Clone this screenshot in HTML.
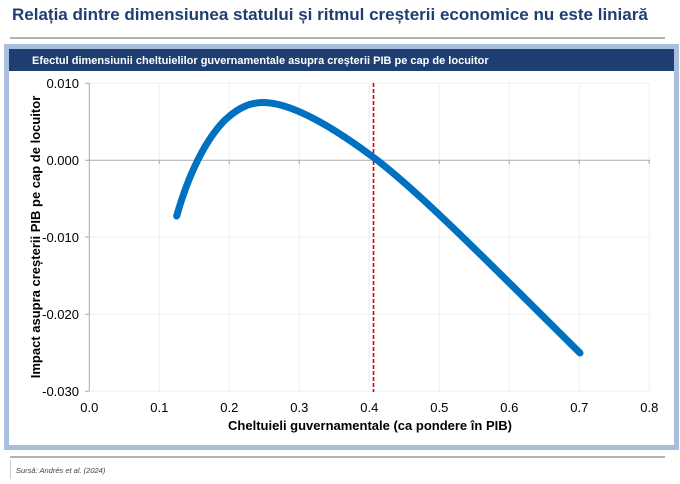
<!DOCTYPE html>
<html><head><meta charset="utf-8"><style>
body{margin:0;width:680px;height:479px;background:#fff;overflow:hidden;font-family:"Liberation Sans",sans-serif;}
</style></head><body>
<svg width="680" height="479" xmlns="http://www.w3.org/2000/svg" font-family="Liberation Sans, sans-serif">
<text x="12" y="20" font-size="17" font-weight="bold" fill="#1f3f73">Relația dintre dimensiunea statului și ritmul creșterii economice nu este liniară</text>
<line x1="10" y1="38" x2="665" y2="38" stroke="#999" stroke-width="1.5"/>
<rect x="6.5" y="46.5" width="670" height="401" fill="#fff" stroke="#a7bfdd" stroke-width="5"/>
<rect x="9" y="49" width="665" height="22" fill="#1f3f73"/>
<text x="32" y="64" font-size="11" font-weight="bold" fill="#fff">Efectul dimensiunii cheltuielilor guvernamentale asupra creșterii PIB pe cap de locuitor</text>
<g stroke="#efefef" stroke-width="1">
<line x1="159.3" y1="83" x2="159.3" y2="391"/><line x1="229.3" y1="83" x2="229.3" y2="391"/><line x1="299.3" y1="83" x2="299.3" y2="391"/><line x1="369.3" y1="83" x2="369.3" y2="391"/><line x1="439.3" y1="83" x2="439.3" y2="391"/><line x1="509.3" y1="83" x2="509.3" y2="391"/><line x1="579.3" y1="83" x2="579.3" y2="391"/><line x1="649.3" y1="83" x2="649.3" y2="391"/>
<line x1="89" y1="83.3" x2="650" y2="83.3"/><line x1="89" y1="237" x2="650" y2="237"/><line x1="89" y1="314.3" x2="650" y2="314.3"/><line x1="89" y1="391.3" x2="650" y2="391.3"/>
</g>
<g stroke="#aaa" stroke-width="1">
<line x1="89.3" y1="83" x2="89.3" y2="391.3"/>
<line x1="89" y1="160.3" x2="650" y2="160.3"/>
<line x1="85" y1="83.3" x2="89" y2="83.3"/><line x1="85" y1="160.3" x2="89" y2="160.3"/><line x1="85" y1="237" x2="89" y2="237"/><line x1="85" y1="314.3" x2="89" y2="314.3"/><line x1="85" y1="391.3" x2="89" y2="391.3"/>
<line x1="159.3" y1="160" x2="159.3" y2="164"/><line x1="229.3" y1="160" x2="229.3" y2="164"/><line x1="299.3" y1="160" x2="299.3" y2="164"/><line x1="439.3" y1="160" x2="439.3" y2="164"/><line x1="509.3" y1="160" x2="509.3" y2="164"/><line x1="579.3" y1="160" x2="579.3" y2="164"/><line x1="649.3" y1="160" x2="649.3" y2="164"/>
</g>
<line x1="373.5" y1="83" x2="373.5" y2="392" stroke="#e00000" stroke-width="1.6" stroke-dasharray="4,2"/>
<path d="M176.7,216 C188,176 205,140 225,120 C240,106 252,102.5 263,102.5 C290,102.5 330,125 373,157 C420,192 500,274 580,353" fill="none" stroke="#0070c0" stroke-width="7" stroke-linecap="round"/>
<g font-size="13" fill="#000" text-anchor="end">
<text x="79" y="88">0.010</text><text x="79" y="165">0.000</text><text x="79" y="242">-0.010</text><text x="79" y="319">-0.020</text><text x="79" y="396">-0.030</text>
</g>
<g font-size="13" fill="#000" text-anchor="middle">
<text x="89.3" y="412">0.0</text><text x="159.3" y="412">0.1</text><text x="229.3" y="412">0.2</text><text x="299.3" y="412">0.3</text><text x="369.3" y="412">0.4</text><text x="439.3" y="412">0.5</text><text x="509.3" y="412">0.6</text><text x="579.3" y="412">0.7</text><text x="649.3" y="412">0.8</text>
</g>
<text x="370" y="430" font-size="13" font-weight="bold" text-anchor="middle">Cheltuieli guvernamentale (ca pondere în PIB)</text>
<text transform="translate(40,237) rotate(-90)" font-size="13" font-weight="bold" text-anchor="middle">Impact asupra creșterii PIB pe cap de locuitor</text>
<line x1="10" y1="457" x2="665" y2="457" stroke="#999" stroke-width="1.5"/>
<line x1="10.5" y1="460" x2="10.5" y2="479" stroke="#ccc" stroke-width="1"/>
<text x="16" y="473" font-size="7.5" font-style="italic" fill="#444">Sursă: Andrés et al. (2024)</text>
</svg>
</body></html>
